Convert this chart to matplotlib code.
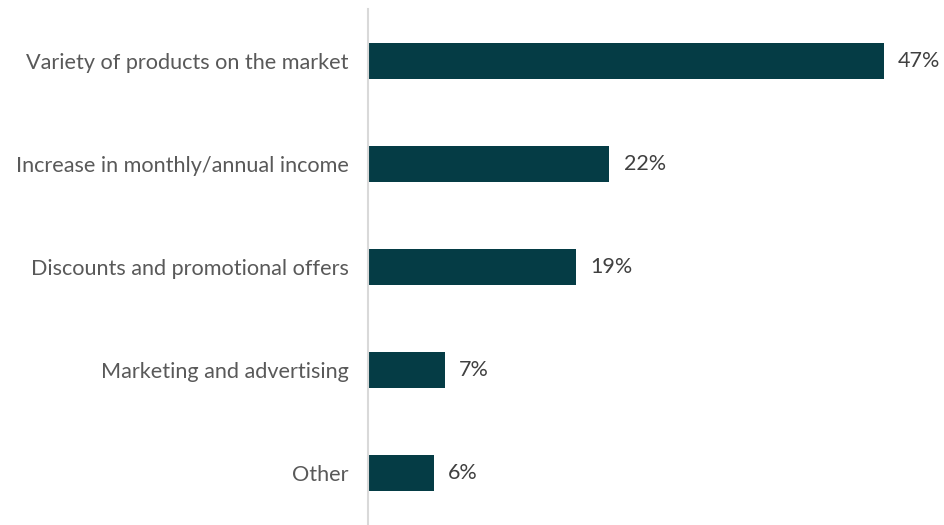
import matplotlib.pyplot as plt

# Reasons for purchase, share of respondents
categories = [
    "Variety of products on the market",
    "Increase in monthly/annual income",
    "Discounts and promotional offers",
    "Marketing and advertising",
    "Other",
]
values = [47, 22, 19, 7, 6]
value_labels = ["47%", "22%", "19%", "7%", "6%"]

plt.rcParams['font.family'] = ['Lato', 'DejaVu Sans']

fig = plt.figure(figsize=(9.45, 5.25), dpi=100)
ax = fig.add_axes([368 / 945, 0.0, 1 - 368 / 945, 1 - 9 / 525])

pos = list(range(len(categories)))
ax.barh(pos, values, height=0.35, color='#053c45')
ax.set_ylim(len(categories) - 0.5, -0.5)
ax.set_xlim(0, 52.6)

for p, v, lab in zip(pos, values, value_labels):
    ax.text(v + 1.3, p, lab, va='center', ha='left', fontsize=15.5, color='#404040')

ax.set_yticks(pos)
ax.set_yticklabels(categories, fontsize=15.6, color='#595959')
ax.tick_params(axis='y', length=0, pad=14)
ax.set_xticks([])

for side in ['top', 'right', 'bottom']:
    ax.spines[side].set_visible(False)
ax.spines['left'].set_color('#d9d9d9')
ax.spines['left'].set_linewidth(1.5)

fig.savefig('out.png', dpi=100)
